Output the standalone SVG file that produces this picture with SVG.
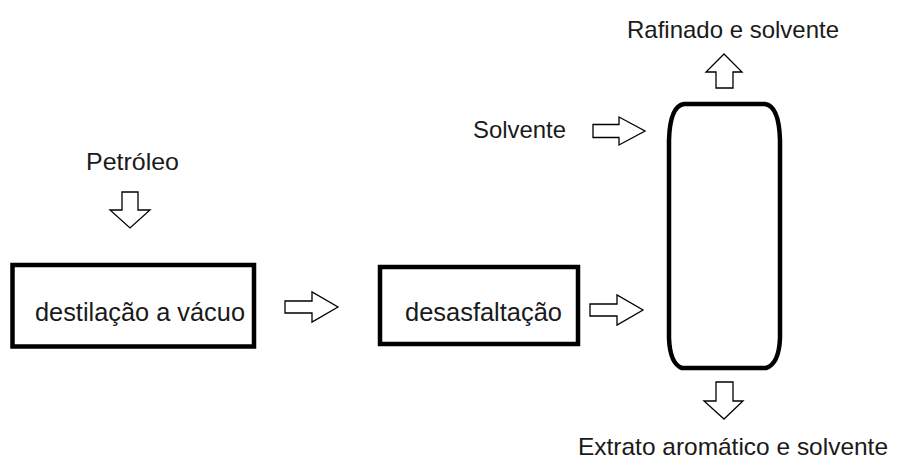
<svg xmlns="http://www.w3.org/2000/svg" width="898" height="459" viewBox="0 0 898 459">
<style>
  text { font-family: "Liberation Sans", Arial, sans-serif; font-size: 24px; fill: #1a1a1a; }
  .big { font-size: 25px; }
  .box { fill: #ffffff; stroke: #000000; stroke-width: 4.5; }
  .arrow { fill: #ffffff; stroke: #000000; stroke-width: 1.3; stroke-linejoin: miter; }
</style>
<rect x="0" y="0" width="898" height="459" fill="#ffffff"/>
<g id="petroleo">
  <text x="86" y="169.5" textLength="93" lengthAdjust="spacingAndGlyphs">Petróleo</text>
</g>
<g id="destilacao">
  <rect class="box" x="12.5" y="265" width="241.5" height="81.5"/>
  <text class="big" x="35" y="321" textLength="210" lengthAdjust="spacingAndGlyphs">destilação a vácuo</text>
</g>
<g id="desasfaltacao">
  <rect class="box" x="380" y="267" width="198" height="77"/>
  <text class="big" x="405" y="321" textLength="157" lengthAdjust="spacingAndGlyphs">desasfaltação</text>
</g>
<g id="coluna">
  <path class="box" d="M684,104 L765,104 Q779,106 780,140 L780,338 Q779,364 766,368 L682,368 Q670,364 669,338 L669,140 Q670,106 684,104 Z"/>
</g>
<g id="solvente">
  <text x="473" y="137.5" textLength="93" lengthAdjust="spacingAndGlyphs">Solvente</text>
</g>
<g id="rafinado">
  <text x="627" y="38" textLength="212" lengthAdjust="spacingAndGlyphs">Rafinado e solvente</text>
</g>
<g id="extrato">
  <text x="578" y="455" textLength="310" lengthAdjust="spacingAndGlyphs">Extrato aromático e solvente</text>
</g>
<g id="connectors">
  <polygon class="arrow" points="122,192 138,192 138,210 150,210 130,228 110,210 122,210"/>
  <polygon class="arrow" points="285,301 312,301 312,292 338,307 312,322 312,313 285,313"/>
  <polygon class="arrow" points="590,304 617,304 617,295 643,310 617,325 617,316 590,316"/>
  <polygon class="arrow" points="593,124.5 619,124.5 619,117 645,131 619,145 619,137.5 593,137.5"/>
  <polygon class="arrow" points="716,88 733,88 733,72 742,72 724,54 706,72 716,72"/>
  <polygon class="arrow" points="716,382 733,382 733,401 743,401 724,419 704,401 716,401"/>
</g>
</svg>
